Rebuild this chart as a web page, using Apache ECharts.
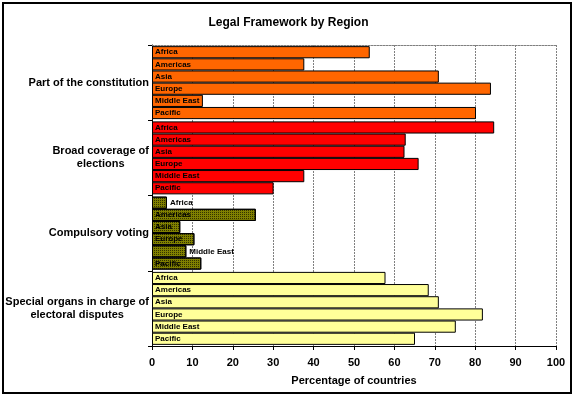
<!DOCTYPE html>
<html>
<head>
<meta charset="utf-8">
<script src="https://cdn.jsdelivr.net/npm/echarts@6/dist/echarts.min.js"></script>
<style>
  html, body { margin: 0; padding: 0; background: #fff; }
  #chart { width: 577px; height: 399px; }
</style>
</head>
<body>
<div id="chart"></div>
<script>
// categories
const groups = ['Part of the constitution', 'Broad coverage of\nelections', 'Compulsory voting', 'Special organs in charge of\nelectoral disputes']
const regions = ['Africa', 'Americas', 'Asia', 'Europe', 'Middle East', 'Pacific']
// values per group, one per region (% of countries)
const constitution = [53.9, 37.7, 71.0, 83.9, 12.6, 80.2]
const broadCoverage = [84.7, 62.8, 62.5, 66.0, 37.7, 30.1]
const compulsory = [3.7, 25.7, 7.0, 10.5, 8.5, 12.2]
const specialOrgans = [57.8, 68.5, 71.0, 81.9, 75.2, 65.1]
const xTicks = [0, 10, 20, 30, 40, 50, 60, 70, 80, 90, 100]

const groupValues = [constitution, broadCoverage, compulsory, specialOrgans]
const groupColors = ['#ff6600', '#ff0000', '#808000', '#ffff99']
const font = 'Arial, "Liberation Sans", sans-serif'

function makeSeries() {
  let out = []
  for (let r = 0; r < regions.length; r++) {
    let data = []
    for (let g = 0; g < groups.length; g++) {
      const v = groupValues[g][r]
      let item = { value: v, itemStyle: { color: groupColors[g] } }
      if (g === 2) {
        item.itemStyle.decal = {
          symbol: 'rect', symbolSize: 1, color: 'rgba(0,0,0,0.6)',
          dashArrayX: [1, 1], dashArrayY: [1, 1], rotation: 0
        }
      }
      // label does not fit inside the bar -> put it after the bar
      if (v * 4.03 < regions[r].length * 4.2 + 4) {
        item.label = { position: 'right', distance: 3 }
      }
      data.push(item)
    }
    out.push({
      name: regions[r],
      type: 'bar',
      data: data,
      barGap: '0%',
      barCategoryGap: '3%',
      itemStyle: { borderColor: '#000', borderWidth: 1 },
      label: {
        show: true,
        position: 'insideLeft',
        distance: 3,
        formatter: regions[r],
        fontSize: 8,
        fontWeight: 'bold',
        fontFamily: font,
        color: '#000',
        textBorderWidth: 0
      },
      emphasis: { disabled: true }
    })
  }
  return out
}

let option = {
  animation: false,
  title: {
    text: 'Legal Framework by Region',
    left: 'center',
    top: 12,
    textStyle: { fontSize: 12, fontWeight: 'bold', fontFamily: font, color: '#000' }
  },
  graphic: [{
    type: 'rect',
    shape: { x: 3, y: 3, width: 568, height: 390 },
    style: { fill: 'none', stroke: '#000', lineWidth: 2 },
    silent: true
  }],
  grid: {
    left: 152,
    right: 21,
    top: 45,
    bottom: 53
  },
  xAxis: [{
    type: 'value',
    min: 0,
    max: 100,
    interval: 10,
    position: 'bottom',
    name: 'Percentage of countries',
    nameLocation: 'middle',
    nameGap: 29,
    nameTextStyle: { fontSize: 11, fontWeight: 'bold', fontFamily: font, color: '#000' },
    axisLine: { show: true, lineStyle: { color: '#000', width: 1 } },
    axisTick: { show: true, length: 4, lineStyle: { color: '#000' } },
    axisLabel: {
      margin: 11,
      fontSize: 11,
      fontWeight: 'bold',
      fontFamily: font,
      color: '#000',
      formatter: (v) => xTicks.indexOf(v) >= 0 ? String(v) : ''
    },
    splitLine: { show: true, lineStyle: { color: '#808080', type: [2, 1], width: 1 } }
  }, {
    type: 'value',
    min: 0,
    max: 100,
    position: 'top',
    axisLine: { show: true, lineStyle: { color: '#808080', type: [2, 1], width: 1 } },
    axisTick: { show: false },
    axisLabel: { show: false },
    splitLine: { show: false }
  }],
  yAxis: {
    type: 'category',
    data: groups,
    inverse: true,
    axisLine: { show: true, lineStyle: { color: '#000', width: 1 } },
    axisTick: { show: true, length: 4, lineStyle: { color: '#000' } },
    axisLabel: {
      margin: 3,
      fontSize: 11,
      fontWeight: 'bold',
      fontFamily: font,
      color: '#000',
      lineHeight: 13,
      formatter: (v) => v.split('\n').map(s => '{c|' + s + '}').join('\n'),
      rich: {
        c: { align: 'center', fontSize: 11, fontWeight: 'bold', fontFamily: font, color: '#000', lineHeight: 13 }
      }
    },
    splitLine: { show: false }
  },
  series: makeSeries()
}

let myChart = echarts.init(document.getElementById('chart'))
myChart.setOption(option)
</script>
</body>
</html>
